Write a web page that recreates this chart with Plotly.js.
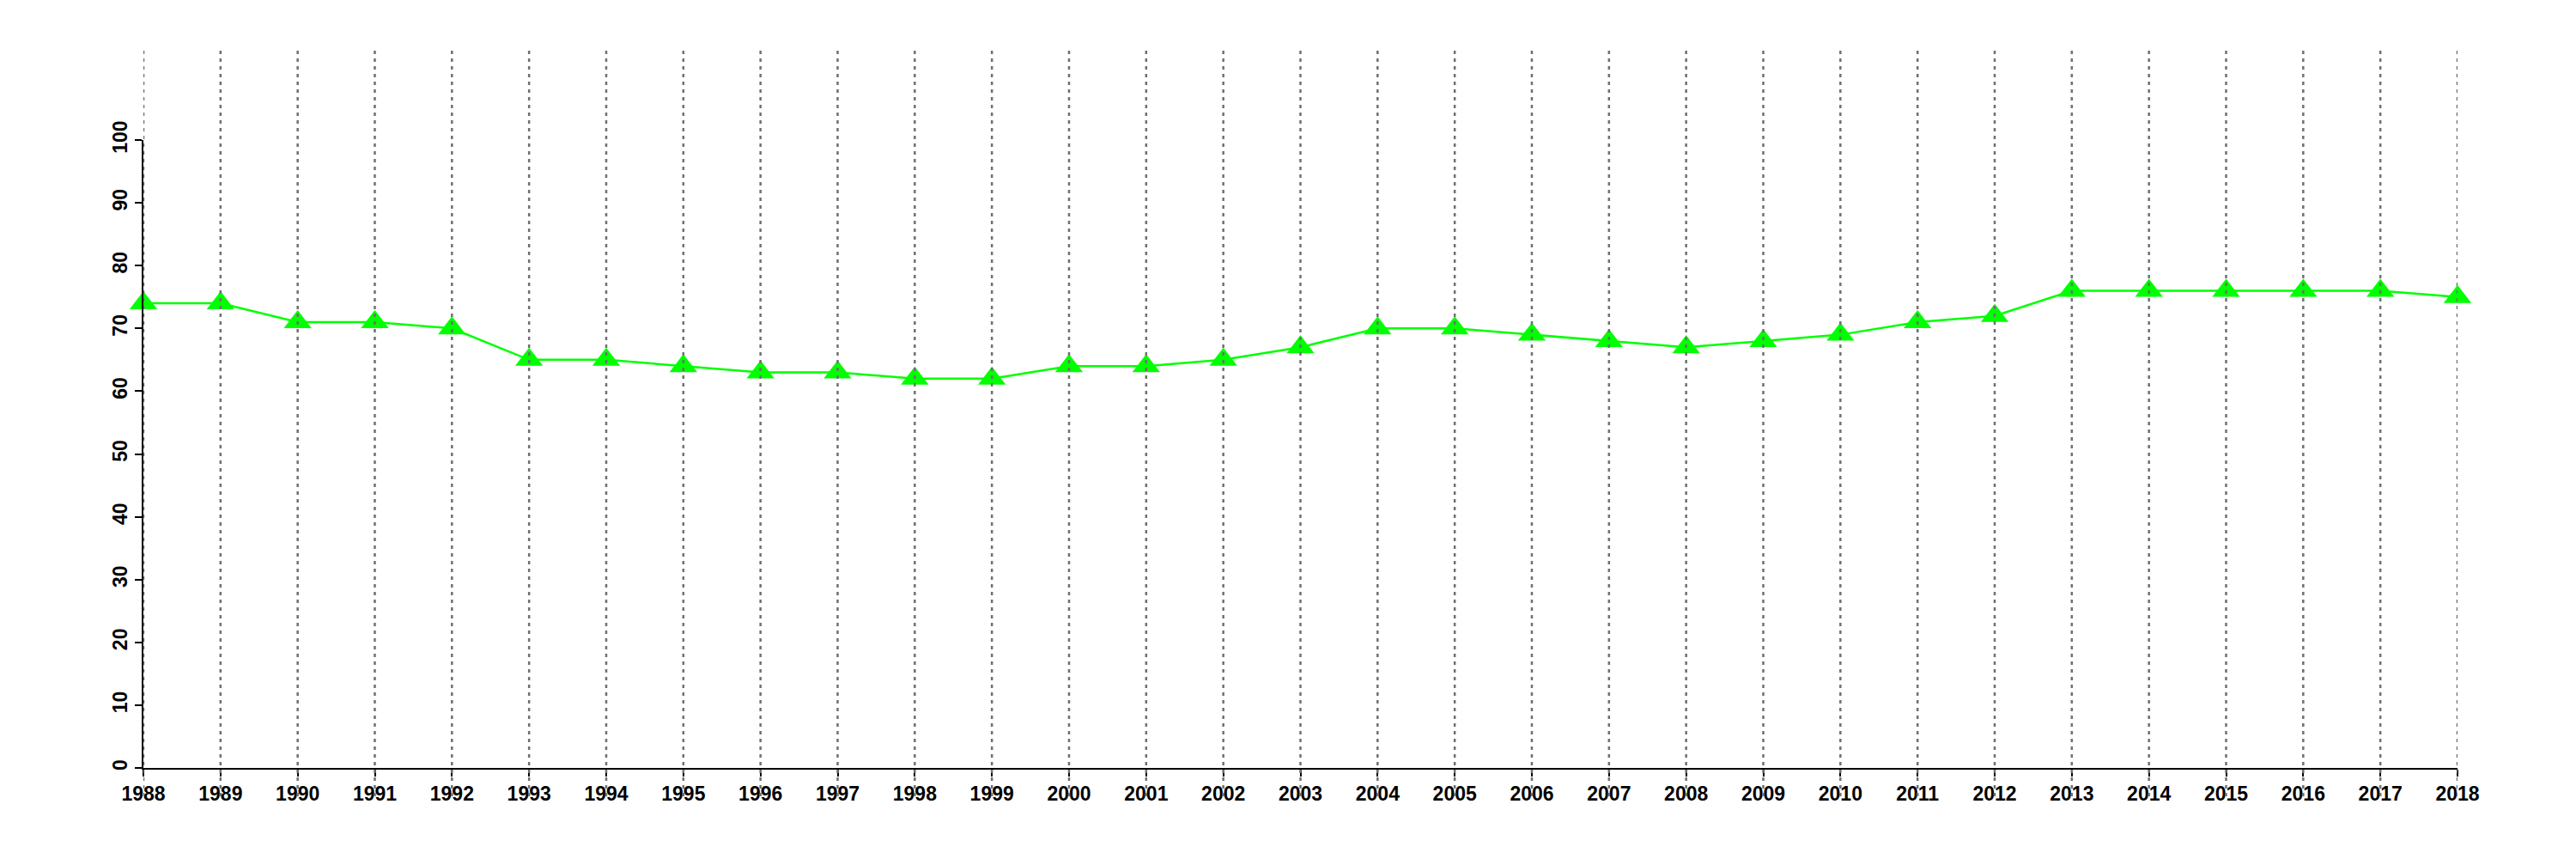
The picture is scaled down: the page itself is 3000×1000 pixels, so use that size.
<!DOCTYPE html>
<html>
<head>
<meta charset="utf-8">
<script src="https://cdn.plot.ly/plotly-3.0.1.min.js"></script>
<style>html,body{margin:0;padding:0;background:#fff;}#chart{width:3000px;height:1000px;}</style>
</head>
<body>
<div id="chart"></div>
<script>
const years = [1988,1989,1990,1991,1992,1993,1994,1995,1996,1997,1998,1999,2000,2001,2002,2003,2004,2005,2006,2007,2008,2009,2010,2011,2012,2013,2014,2015,2016,2017,2018];
const values = [74,74,71,71,70,65,65,64,63,63,62,62,64,64,65,67,70,70,69,68,67,68,69,71,72,76,76,76,76,76,75];
const yTicks = [0,10,20,30,40,50,60,70,80,90,100];

const trace = {
  x: years, y: values, type: 'scatter', mode: 'lines+markers',
  line: {color: '#00ff00', width: 2.5},
  marker: {symbol: 'triangle-up', size: 28, color: '#00ff00'},
  cliponaxis: false,
  hoverinfo: 'x+y', showlegend: false
};

const gridShapes = years.map(yr => ({
  type: 'line', xref: 'x', yref: 'paper', x0: yr, x1: yr, y0: -0.045, y1: 1.143,
  line: {color: '#707070', width: 2.5, dash: '4px,5px'}, layer: 'above'
}));

const tickFont = {family: 'Liberation Sans, Arial, sans-serif', size: 23, color: '#000', weight: 'bold'};

const layout = {
  width: 3000, height: 1000,
  margin: {l: 167, r: 138, t: 163, b: 106, pad: 0},
  paper_bgcolor: '#fff', plot_bgcolor: '#fff',
  showlegend: false,
  xaxis: {
    range: [years[0], years[years.length-1]], tickvals: years, ticktext: years.map(String),
    showgrid: false, zeroline: false, showline: true, linecolor: '#000', linewidth: 2,
    ticks: 'outside', ticklen: 8, tickwidth: 2, tickcolor: '#000', tickfont: tickFont, tickangle: 0
  },
  yaxis: {
    range: [0, 100], tickvals: yTicks, ticktext: yTicks.map(String),
    showgrid: false, zeroline: false, showline: true, linecolor: '#000', linewidth: 2,
    ticks: 'outside', ticklen: 8, tickwidth: 2, tickcolor: '#000', tickfont: tickFont, tickangle: -90
  },
  shapes: gridShapes
};

Plotly.newPlot('chart', [trace], layout, {displayModeBar: false, staticPlot: true});
</script>
</body>
</html>
